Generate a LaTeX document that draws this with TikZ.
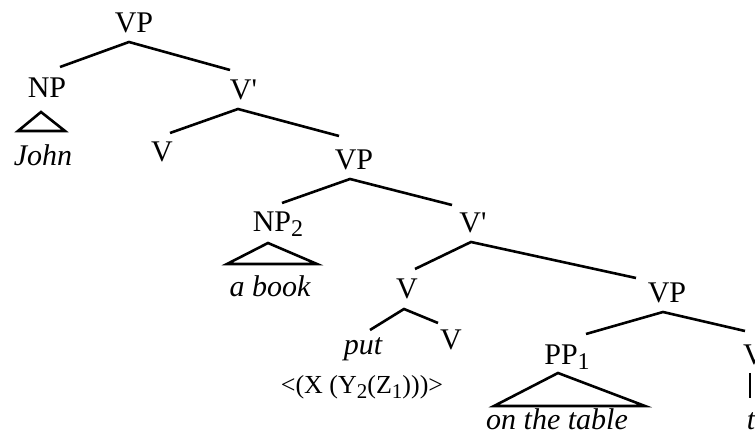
\documentclass[tikz,border=0pt]{standalone}
\usepackage{fontspec}
\setmainfont{Liberation Serif}[Ligatures=TeXOff]
\newcommand{\sbs}[1]{\raisebox{-5pt}{\fontsize{24}{24}\selectfont #1}}
\newcommand{\ssbs}[1]{\raisebox{-5pt}{\fontsize{21}{21}\selectfont #1}}
\begin{document}
\begin{tikzpicture}[x=1pt,y=-1pt,
  lab/.style={anchor=base, font=\fontsize{30}{30}\selectfont, inner sep=0pt},
  word/.style={anchor=base, font=\fontsize{30}{30}\selectfont\itshape, inner sep=0pt},
  small/.style={anchor=base, font=\fontsize{26}{26}\selectfont, inner sep=0pt},
  br/.style={line width=2.6pt, line cap=butt, line join=miter}]
\useasboundingbox (0,0) rectangle (755,443);
% labels
\node[lab] (vp1) at (134,33) {VP};
\node[lab] (np) at (47,98) {NP};
\node[lab] (vpr1) at (243.5,100) {V'};
\node[word] (john) at (43,166) {John};
\node[lab] (v1) at (162,162) {V};
\node[lab] (vp2) at (354,170) {VP};
\node[lab] (np2) at (278,232) {NP\sbs{2}};
\node[lab] (vpr2) at (473,233) {V'};
\node[word] (abook) at (270,297) {a book};
\node[lab] (v3) at (407,299) {V};
\node[lab] (vp3) at (667,303) {VP};
\node[word] (put) at (363,355) {put};
\node[lab] (v4) at (451,350) {V};
\node[small] (sem) at (362,394) {<(X (Y\ssbs{2}(Z\ssbs{1})))>};
\node[lab] (pp1) at (567,365) {PP\sbs{1}};
\node[word] (table) at (557,429) {on the table};
\node[lab] (v5) at (754,365) {V};
\node[word] (t) at (751,429) {t};
% branches
\draw[br] ([shift={(13,-31)}]np.base) -- ([shift={(-5,9)}]vp1.base) -- ([shift={(-13.5,-30)}]vpr1.base);
\draw[br] ([shift={(8,-29)}]v1.base) -- ([shift={(-5.5,9)}]vpr1.base) -- ([shift={(-15,-34)}]vp2.base);
\draw[br] ([shift={(4,-29)}]np2.base) -- ([shift={(-4,9)}]vp2.base) -- ([shift={(-21,-28)}]vpr2.base);
\draw[br] ([shift={(8,-30)}]v3.base) -- ([shift={(-2,9)}]vpr2.base) -- ([shift={(-31,-25)}]vp3.base);
\draw[br] ([shift={(7,-25)}]put.base) -- ([shift={(-3,10)}]v3.base) -- ([shift={(-13,-27)}]v4.base);
\draw[br] ([shift={(19,-31)}]pp1.base) -- ([shift={(-4,9)}]vp3.base) -- ([shift={(-9,-34)}]v5.base);
% triangles
\draw[br] ([shift={(-6,14)}]np.base) -- ([shift={(-29,33)}]np.base) -- ([shift={(18,33)}]np.base) -- cycle;
\draw[br] ([shift={(-10,11)}]np2.base) -- ([shift={(-51,32)}]np2.base) -- ([shift={(39,32)}]np2.base) -- cycle;
\draw[br] ([shift={(-9,8)}]pp1.base) -- ([shift={(-73,41)}]pp1.base) -- ([shift={(78,41)}]pp1.base) -- cycle;
\draw[br] ([shift={(-4,8)}]v5.base) -- ([shift={(-4,33)}]v5.base);
\end{tikzpicture}
\end{document}
